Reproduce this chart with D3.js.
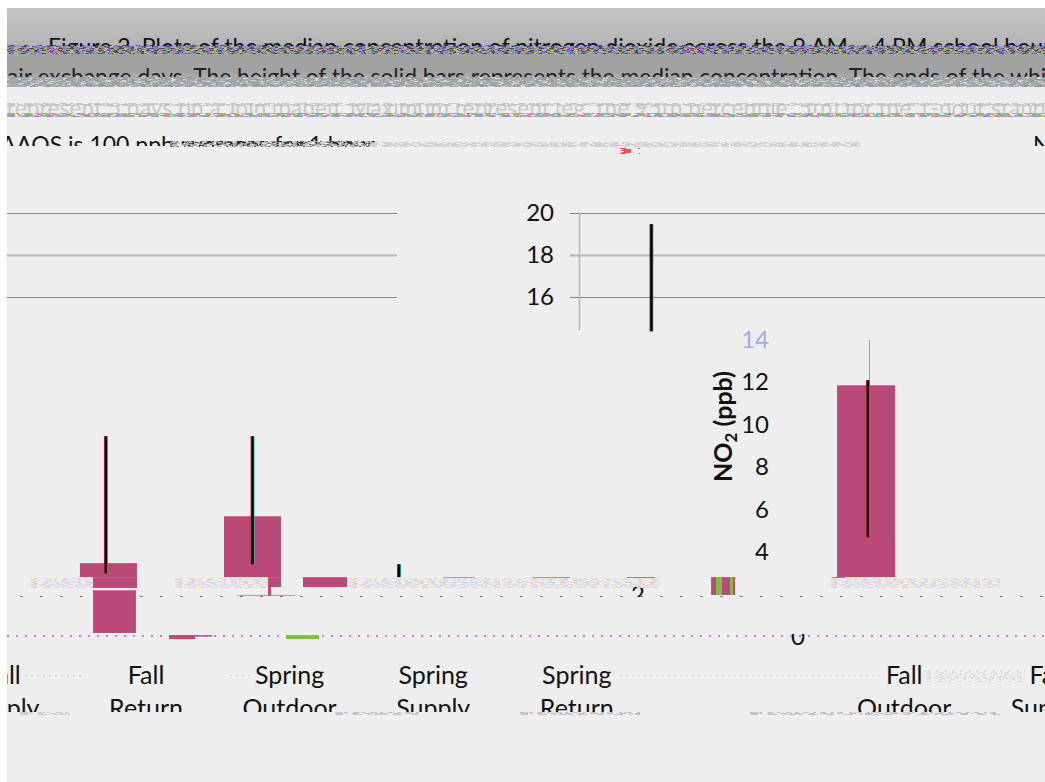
<!DOCTYPE html>
<html><head><meta charset="utf-8">
<script src="https://cdnjs.cloudflare.com/ajax/libs/d3/7.8.5/d3.min.js"></script>
<style>html,body{margin:0;padding:0;background:#fff;overflow:hidden}svg{display:block}text{font-family:Lato,"Open Sans",sans-serif;fill:#111}</style>
</head><body><svg id="c" width="1045" height="782"></svg>
<script>
// Category labels and their positions along the category axis
const categories = ["Fall Supply","Fall Return","Spring Outdoor","Spring Supply","Spring Return","Fall Outdoor","Fall Supply"];
const categoryPos = [0,1,2,3,4,6.28,7.28];
// Y axis
const upperTicks = [20,18,16];
const lowerTicks = [14,12,10,8,6,4];
// Bars (in category units and ppb)
const barFrom = [0.54,0.631,0.631,1.543,1.85,1.85,2.093,1.16,1.341,5.812];
const barTo   = [0.937,0.937,0.93,1.94,1.94,1.871,2.4,1.341,1.46,6.216];
const barLow  = [2.82,2.31,0.19,2.82,2.35,1.93,2.35,-0.1,0.02,2.82];
const barHigh = [3.48,2.82,2.2,5.69,2.82,2.35,2.82,0.09,0.09,11.86];
// Small bars
const greenFrom = [1.975,4.969,5.067];
const greenTo   = [2.205,5.011,5.088];
const greenLow  = [-0.1,1.98,1.98];
const greenHigh = [0.09,2.82,2.82];
const stripeFrom = [4.935], stripeTo = [5.102], stripeLow = [1.98], stripeHigh = [2.82];
// Whiskers
const whiskerPos  = [0.721,1.742,2.762,4.52,6.028];
const whiskerLow  = [3.0,3.43,2.82,14.4,4.7];
const whiskerHigh = [9.46,9.46,3.43,19.45,12.1];

const svg = d3.select("#c");
const W=1045,H=782;
const x = d3.scaleLinear().domain([1,2]).range([146,289.6]);
const y = d3.scaleLinear().domain([0,20]).range([637,212.5]);
const defs = svg.append("defs");
function clip(id,x0,y0,w,h){defs.append("clipPath").attr("id",id).append("rect").attr("x",x0).attr("y",y0).attr("width",w).attr("height",h);return `url(#${id})`;}

// Background
const grad = defs.append("linearGradient").attr("id","g1").attr("x1",0).attr("x2",0).attr("y1",0).attr("y2",1);
grad.append("stop").attr("offset",0).attr("stop-color","#c4c4c4");
grad.append("stop").attr("offset",1).attr("stop-color","#b4b4b4");
svg.append("rect").attr("x",7).attr("y",8).attr("width",W-7).attr("height",H-8).attr("fill","#eeeeee");
svg.append("rect").attr("x",7).attr("y",8).attr("width",W-7).attr("height",37).attr("fill","url(#g1)");
svg.append("rect").attr("x",7).attr("y",45).attr("width",W-7).attr("height",9).attr("fill","#b0aeb0");
svg.append("rect").attr("x",7).attr("y",54).attr("width",W-7).attr("height",20).attr("fill","#a2a2a2");
svg.append("rect").attr("x",7).attr("y",74).attr("width",W-7).attr("height",13).attr("fill","#a9a9a9");

function noise(x0,x1,yy,h,colors,base,op){
  colors.forEach((c,i)=>{
    for(let r=0;r<h;r+=1){
      const a=base+((i*3+r*2)%5), b=base*2+((i*5+r*3)%7);
      svg.append("line").attr("x1",x0+(i*2+r*3)%5).attr("x2",x1).attr("y1",yy+r+.5).attr("y2",yy+r+.5)
        .attr("stroke",c).attr("stroke-width",1).attr("stroke-opacity",op)
        .attr("stroke-dasharray",`${a} ${b}`);
    }
  });
}
const loud=["#7a7a7a","#d050c8","#60c0a0","#d0c060","#404040","#8080e0"];
const pale=["#bfeeee","#f0f0b8","#e8c8f0"];

// Header text, cut by the picture's bands
function headerLine(t,xx,yy,size,y0,y1,col,op){
  svg.append("text").attr("x",xx).attr("y",yy).attr("font-size",size).attr("clip-path",clip("h"+yy+"_"+Math.round(xx),7,y0,W,y1-y0))
    .style("fill",col).attr("opacity",op).text(t);
}
noise(7,W,45,9,loud,2,.85);
noise(7,W,77,10,["#8c8c8c","#c8c8c8","#d8d8d8","#a890b8","#90b0a0"],3,.9);
headerLine("Figure 2. Plots of the median concentration of nitrogen dioxide across the 9 AM – 4 PM school hours",48,55,23,37,46,"#111",1);
headerLine("air exchange days. The height of the solid bars represents the median concentration. The ends of the whiskers",7,85,22.8,66,77,"#222",1);
headerLine("represent 5 days on a Join (panel). Maximum represent (eg. the 95th percentile, 5th) for the 1-hour standard, the",7,116,22.8,104,113,"#777",.3);
noise(7,W,103,3,["#c8a8d0","#a8c8c8","#d0c8a0"],3,.7);
noise(7,W,113,4,["#909090","#d060c0","#60b0b0","#b0b040"],3,.7);
headerLine("NAAQS is 100 ppb averages for 1 hour.",-17,153,23,132,146,"#111",1);
headerLine("NO",1033,153,23,135,146,"#111",1);
noise(170,370,141,6,["#333","#999","#c0c0c0"],2,.8);
noise(370,860,142,5,["#c8c8d8","#d8c8d0","#c0d8d8"],2,.8);
noise(620,640,148,6,["#e03030"],6,.8);

// Gridlines in the two visible chart pieces
const gridClip = clip("gc",7,200,W,130);
const grid = svg.append("g").attr("clip-path",gridClip);
[[7,397],[570,W]].forEach(([a,b])=>{
  grid.selectAll(null).data(upperTicks).join("line")
    .attr("x1",a).attr("x2",b).attr("y1",d=>Math.round(y(d))+.5).attr("y2",d=>Math.round(y(d))+.5)
    .attr("stroke",d=>d===18?"#b6b6b6":"#848484").attr("stroke-width",d=>d===18?2:1);
});
grid.append("line").attr("x1",579.5).attr("x2",579.5).attr("y1",y(20)).attr("y2",331).attr("stroke","#c0b4b8").attr("stroke-width",1.5);

// Y tick labels
svg.selectAll(null).data(upperTicks).join("text").attr("x",554).attr("y",d=>y(d)+8).attr("text-anchor","end").attr("font-size",24).text(d=>d);
svg.selectAll(null).data(lowerTicks).join("text").attr("x",769).attr("y",d=>y(d)+8).attr("text-anchor","end").attr("font-size",24)
  .attr("opacity",d=>d===14?.55:1).style("fill",d=>d===14?"#6a70d8":"#111").text(d=>d);
svg.append("text").attr("x",645).attr("y",y(2)+8).attr("text-anchor","end").attr("font-size",24).attr("clip-path",clip("t2",600,585,80,12)).text(2);
svg.append("text").attr("x",805).attr("y",y(0)+8).attr("text-anchor","end").attr("font-size",24).attr("clip-path",clip("t0",780,634,40,14)).text(0);

// Axis title
const title = svg.append("text").attr("transform","translate(732,482) rotate(-90)").attr("font-size",25).attr("font-weight",700);
title.append("tspan").text("NO");
title.append("tspan").attr("dy",5).attr("font-size",17).text("2");
title.append("tspan").attr("dy",-5).text(" (ppb)");

// Pale dither under the bars
noise(30,95,578,10,pale,2,.9);
noise(175,270,578,10,pale,2,.9);
noise(350,660,578,10,pale,2,.9);
noise(830,1000,578,10,pale,2,.9);
svg.append("line").attr("x1",20).attr("x2",1045).attr("y1",596.5).attr("y2",596.5).attr("stroke","#777").attr("stroke-width",1).attr("stroke-dasharray","3 17");
svg.append("line").attr("x1",237).attr("x2",295).attr("y1",595.5).attr("y2",595.5).attr("stroke","#b09aa4").attr("stroke-width",1);
[[443,475,"#8fbd58"],[532,570,"#7ea0b8"],[627,655,"#7a86b0"],[832,845,"#7090c0"]].forEach(([a,b,c])=>
  svg.append("line").attr("x1",a).attr("x2",b).attr("y1",577.5).attr("y2",577.5).attr("stroke",c));
svg.append("line").attr("x1",7).attr("x2",W).attr("y1",636).attr("y2",636).attr("stroke","#e070e0").attr("stroke-width",2).attr("stroke-dasharray","2 7");
svg.append("line").attr("x1",7).attr("x2",W).attr("y1",637).attr("y2",637).attr("stroke","#b0d0e0").attr("stroke-width",1).attr("stroke-dasharray","1 14");

// Bars
svg.append("g").selectAll("rect").data(barFrom.map((d,i)=>i)).join("rect")
  .attr("x",i=>x(barFrom[i])).attr("width",i=>x(barTo[i])-x(barFrom[i]))
  .attr("y",i=>y(barHigh[i])).attr("height",i=>y(barLow[i])-y(barHigh[i]))
  .attr("fill","#b94a78");
svg.append("g").selectAll("rect").data(stripeFrom.map((d,i)=>i)).join("rect")
  .attr("x",i=>x(stripeFrom[i])).attr("width",i=>x(stripeTo[i])-x(stripeFrom[i]))
  .attr("y",i=>y(stripeHigh[i])).attr("height",i=>y(stripeLow[i])-y(stripeHigh[i]))
  .attr("fill","#b94a78");
svg.append("g").selectAll("rect").data(greenFrom.map((d,i)=>i)).join("rect")
  .attr("x",i=>x(greenFrom[i])).attr("width",i=>x(greenTo[i])-x(greenFrom[i]))
  .attr("y",i=>y(greenHigh[i])).attr("height",i=>y(greenLow[i])-y(greenHigh[i]))
  .attr("fill","#84bb42");

// Whiskers with coloured fringes
[["#e0202a",-1.5,1],["#19d8d8",1.5,1],["#000",0,2.6]].forEach(([c,dx,sw])=>{
  svg.append("g").selectAll("line").data(whiskerPos.map((d,i)=>i)).join("line")
    .attr("x1",i=>x(whiskerPos[i])+dx).attr("x2",i=>x(whiskerPos[i])+dx)
    .attr("y1",i=>y(whiskerLow[i])).attr("y2",i=>y(whiskerHigh[i]))
    .attr("stroke",c).attr("stroke-width",sw);
});
svg.append("line").attr("x1",869.5).attr("x2",869.5).attr("y1",y(14)).attr("y2",y(12.1)).attr("stroke","#19d8d8");

// Category labels, cut through their second line
noise(25,85,675,1,["#bbb"],2,.8);
noise(230,250,675,1,["#ccc"],2,.8);
noise(620,880,675,1,["#ccc"],2,.8);
noise(925,1025,670,12,["#d0d0d0"],1,.6);
const lab = svg.append("g").attr("clip-path",clip("lab",7,655,W,57));
categories.forEach((c,i)=>{
  const [a,b]=c.split(" ");
  const t=lab.append("text").attr("text-anchor","middle").attr("font-size",25);
  t.append("tspan").attr("x",x(categoryPos[i])).attr("y",684).text(a);
  t.append("tspan").attr("x",x(categoryPos[i])).attr("y",717).text(b);
});
noise(20,70,712,3,["#c8b8d0","#b8c8d0"],3,.7);
noise(335,420,712,3,["#aaa","#c8b8d0"],3,.7);
noise(520,640,712,3,["#aaa","#c8b8d0"],3,.7);
noise(750,1000,712,3,["#aaa","#c8b8d0"],3,.7);
</script></body></html>
